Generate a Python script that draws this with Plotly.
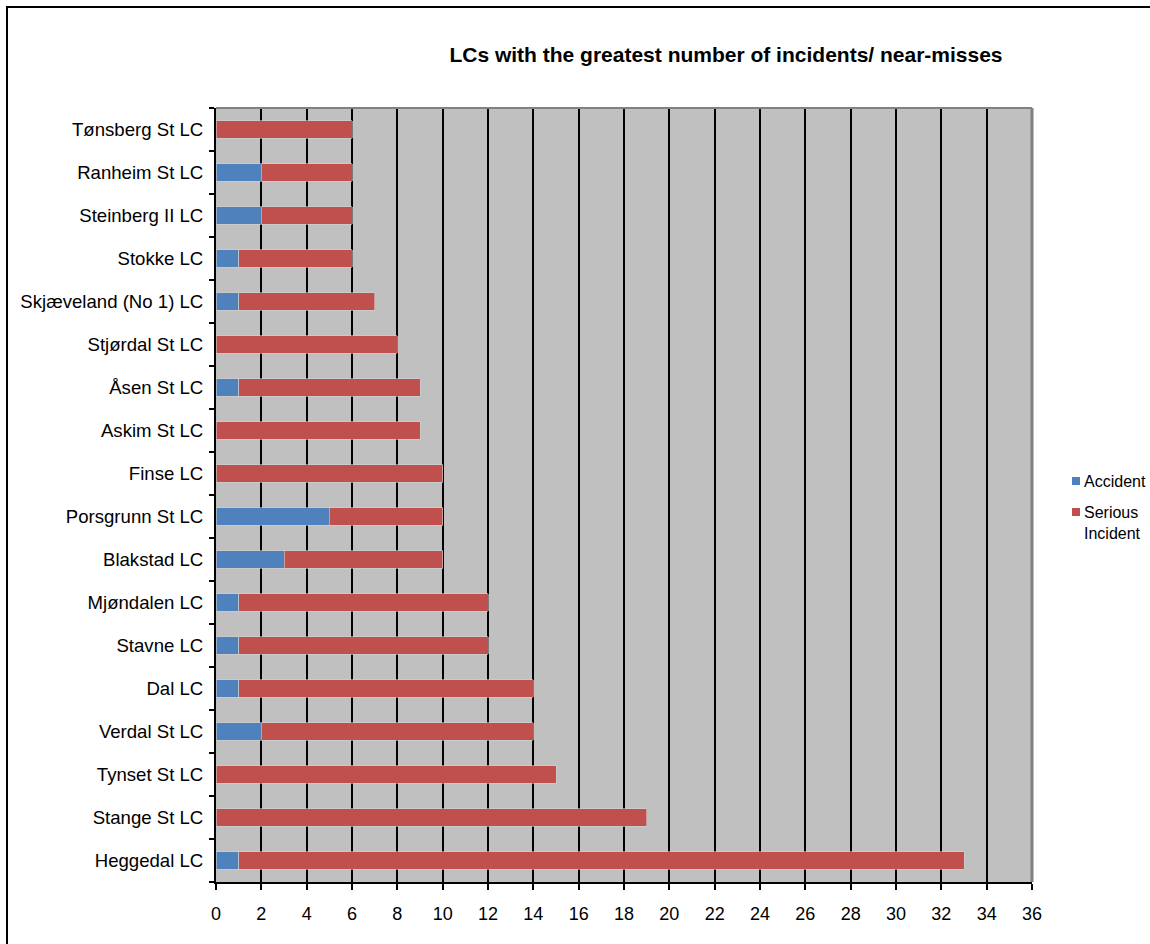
import plotly.graph_objects as go

# Level crossings, listed bottom to top as drawn on the category axis
crossings = [
    "Heggedal LC", "Stange St LC", "Tynset St LC", "Verdal St LC", "Dal LC",
    "Stavne LC", "Mjøndalen LC", "Blakstad LC", "Porsgrunn St LC", "Finse LC",
    "Askim St LC", "Åsen St LC", "Stjørdal St LC", "Skjæveland (No 1) LC",
    "Stokke LC", "Steinberg II LC", "Ranheim St LC", "Tønsberg St LC",
]
accidents = [1, 0, 0, 2, 1, 1, 1, 3, 5, 0, 0, 1, 0, 1, 1, 2, 2, 0]
serious_incidents = [32, 19, 15, 12, 13, 11, 11, 7, 5, 10, 9, 8, 8, 6, 5, 4, 4, 6]
x_ticks = list(range(0, 37, 2))
series_names = ["Accident", "Serious<br>Incident"]

BLUE = "#4F81BD"
RED = "#C0504D"
FONT = "Liberation Sans, Arial, sans-serif"

fig = go.Figure()
fig.add_trace(go.Bar(
    y=crossings, x=accidents, orientation="h", name=series_names[0],
    marker=dict(color=BLUE, line=dict(color="#d0d0d0", width=0.6)),
))
fig.add_trace(go.Bar(
    y=crossings, x=serious_incidents, orientation="h", name=series_names[1],
    marker=dict(color=RED, line=dict(color="#d0d0d0", width=0.6)),
))

W, H = 1150, 944
L, R, T, B = 216, 118, 108, 62
pw, ph = W - L - R, H - T - B

def px_x(px):
    return (px - L) / pw

def px_y(py):
    return 1 - (py - T) / ph

shapes = [
    # gray frame on top and right of plot area
    dict(type="line", xref="paper", yref="paper", x0=0, x1=1, y0=1, y1=1,
         line=dict(color="#808080", width=2)),
    dict(type="line", xref="paper", yref="paper", x0=1, x1=1, y0=0, y1=1,
         line=dict(color="#808080", width=3)),
    # outer chart border
    dict(type="rect", xref="paper", yref="paper",
         x0=px_x(7), x1=px_x(1170), y0=px_y(970), y1=px_y(7),
         line=dict(color="black", width=2), fillcolor="rgba(0,0,0,0)"),
]
annotations = []

# legend: small colour squares with the series names beside them
legend_rows = [(481, BLUE, series_names[0]), (512, RED, series_names[1])]
for cy, col, name in legend_rows:
    shapes.append(dict(
        type="rect", xref="paper", yref="paper",
        x0=px_x(1072), x1=px_x(1080), y0=px_y(cy + 4), y1=px_y(cy - 4),
        line=dict(width=0), fillcolor=col,
    ))
    annotations.append(dict(
        xref="paper", yref="paper", x=px_x(1082), y=px_y(cy - 10),
        xanchor="left", yanchor="top", align="left", showarrow=False,
        text=name, font=dict(family=FONT, size=16, color="black"),
    ))

fig.update_layout(
    width=W, height=H,
    margin=dict(l=L, r=R, t=T, b=B, pad=0, autoexpand=False),
    barmode="stack",
    bargap=0.6,
    paper_bgcolor="white",
    plot_bgcolor="#C0C0C0",
    font=dict(family=FONT, size=18, color="black"),
    title=dict(
        text="<b>LCs with the greatest number of incidents/ near-misses</b>",
        x=726 / W, xanchor="center", y=1 - 55 / H, yanchor="middle",
        font=dict(family=FONT, size=21, color="black"),
    ),
    showlegend=False,
    xaxis=dict(
        range=[0, 36], tickvals=x_ticks, ticktext=[str(v) for v in x_ticks],
        showgrid=True, gridcolor="black", gridwidth=2,
        showline=True, linecolor="black", linewidth=2,
        ticks="outside", ticklen=6, tickwidth=2, tickcolor="black",
        zeroline=False, tickfont=dict(size=18), ticklabelstandoff=8,
    ),
    yaxis=dict(
        categoryorder="array", categoryarray=crossings,
        showgrid=False, showline=True, linecolor="black", linewidth=2,
        ticks="outside", tickson="boundaries", ticklen=5, tickwidth=2,
        tickcolor="black", zeroline=False, tickfont=dict(size=18.6),
        ticklabelstandoff=7,
    ),
    shapes=shapes,
    annotations=annotations,
)

fig.write_html("out.html")
